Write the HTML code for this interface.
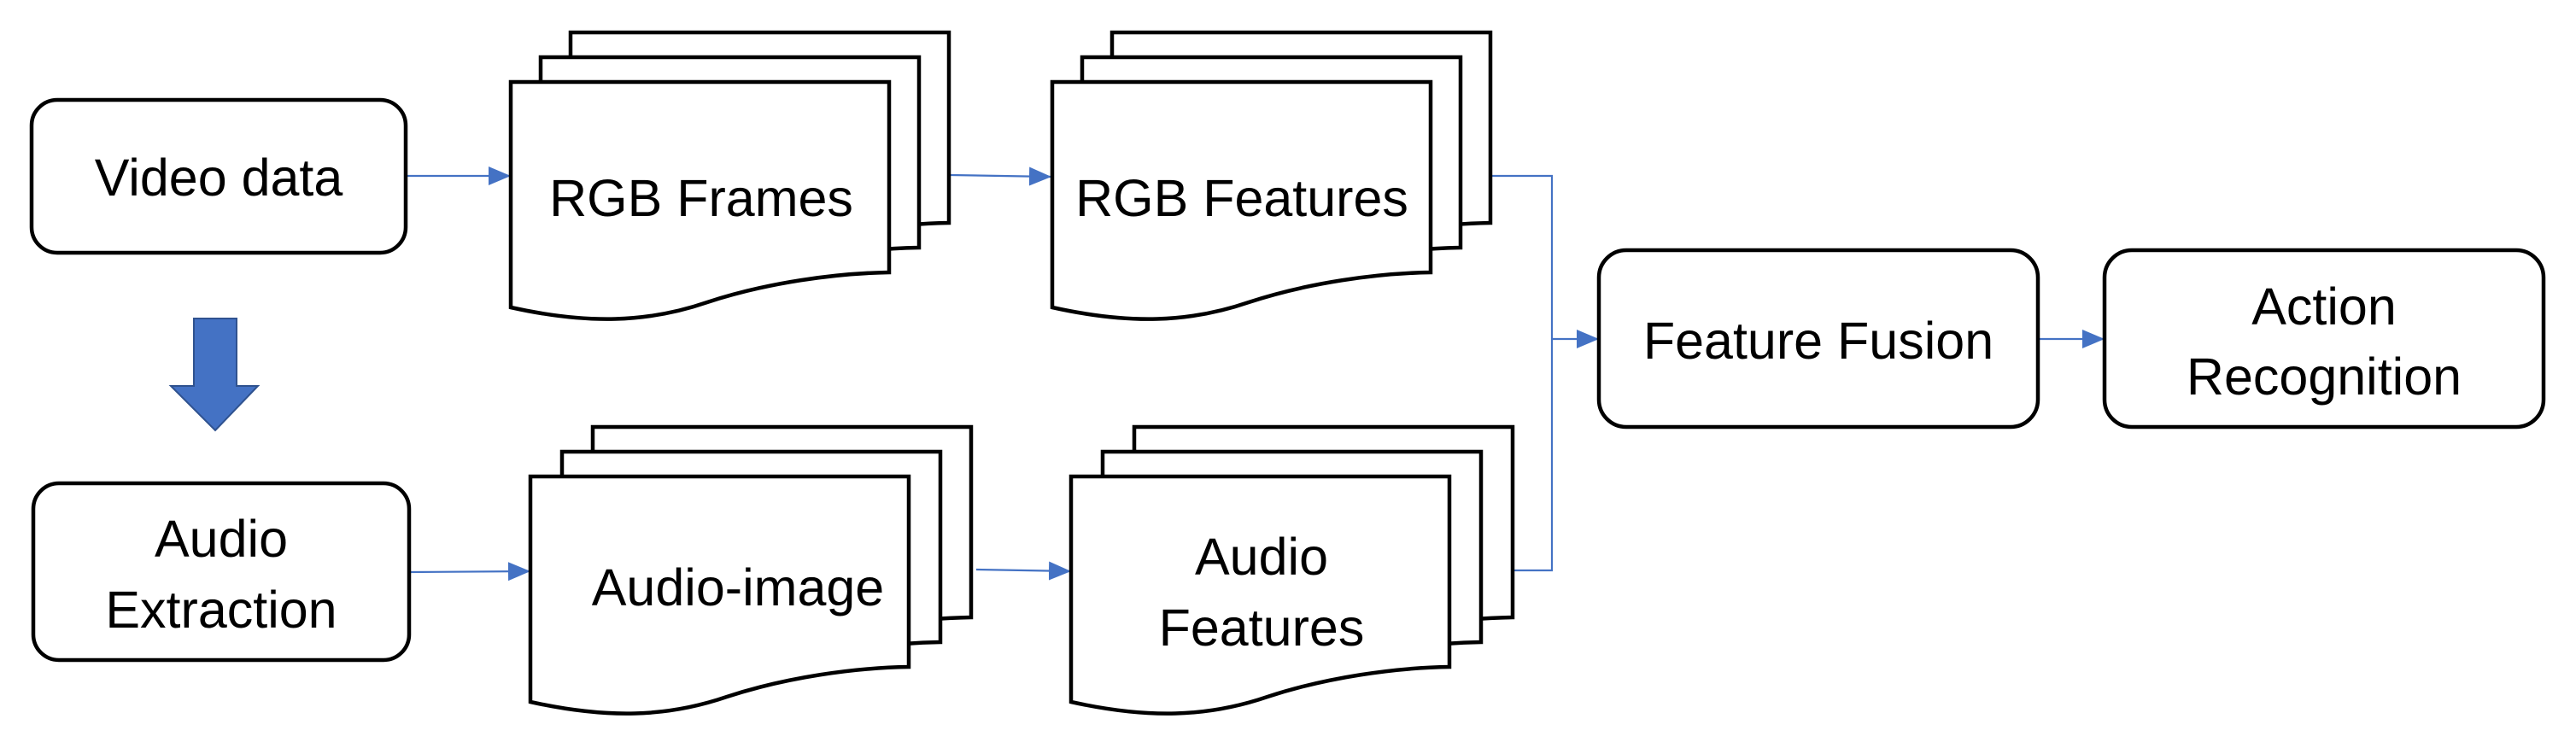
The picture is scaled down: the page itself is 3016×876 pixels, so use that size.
<!DOCTYPE html>
<html><head><meta charset="utf-8"><style>
html,body{margin:0;padding:0;background:#fff;}
svg{display:block;}
text{font-family:"Liberation Sans",sans-serif;font-size:61px;fill:#000;text-anchor:middle;}
</style></head><body>
<svg width="3016" height="876" viewBox="0 0 3016 876" xmlns="http://www.w3.org/2000/svg">
<defs>
<path id="doc" d="M0,0 H443 V223 C380,224 300,235 230,258 C160,282 90,284 0,264 Z" fill="#fff" stroke="#000" stroke-width="4.5"/>
<marker id="ah" markerWidth="26" markerHeight="22" refX="26" refY="11" orient="auto" markerUnits="userSpaceOnUse">
<path d="M0,0 L26,11 L0,22 Z" fill="#4472C4"/>
</marker>
</defs>
<g fill="none" stroke="#4472C4" stroke-width="2.2">
<line x1="476" y1="206" x2="598" y2="206" marker-end="url(#ah)"/>
<line x1="1113" y1="205" x2="1231" y2="207" marker-end="url(#ah)"/>
<line x1="479" y1="670" x2="621" y2="669" marker-end="url(#ah)"/>
<line x1="1143" y1="667" x2="1254" y2="669" marker-end="url(#ah)"/>
<polyline points="1747,206 1817,206 1817,668 1772,668"/>
<line x1="1817" y1="397" x2="1872" y2="397" marker-end="url(#ah)"/>
<line x1="2386" y1="397" x2="2464" y2="397" marker-end="url(#ah)"/>
</g>
<g fill="#fff" stroke="#000" stroke-width="4.5">
<rect x="37" y="117" width="438" height="179" rx="30"/>
<rect x="39" y="566" width="440" height="207" rx="30"/>
<rect x="1872" y="293" width="514" height="207" rx="32"/>
<rect x="2464" y="293" width="514" height="207" rx="32"/>
</g>
<path d="M227,373 H277 V452 H302 L252,504 L200,452 H227 Z" fill="#4472C4" stroke="#2F528F" stroke-width="2"/>
<use href="#doc" x="668" y="38"/><use href="#doc" x="633" y="67"/><use href="#doc" x="598" y="96"/>
<use href="#doc" x="1302" y="38"/><use href="#doc" x="1267" y="67"/><use href="#doc" x="1232" y="96"/>
<use href="#doc" x="694" y="500"/><use href="#doc" x="658" y="529"/><use href="#doc" x="621" y="558"/>
<use href="#doc" x="1328" y="500"/><use href="#doc" x="1291" y="529"/><use href="#doc" x="1254" y="558"/>
<text x="256" y="229">Video data</text>
<text x="259" y="652">Audio</text>
<text x="259" y="735">Extraction</text>
<text x="821" y="253">RGB Frames</text>
<text x="1454" y="253">RGB Features</text>
<text x="864" y="709">Audio-image</text>
<text x="1477" y="673">Audio</text>
<text x="1477" y="756">Features</text>
<text x="2129" y="420">Feature Fusion</text>
<text x="2721" y="380">Action</text>
<text x="2721" y="462">Recognition</text>
</svg>
</body></html>
